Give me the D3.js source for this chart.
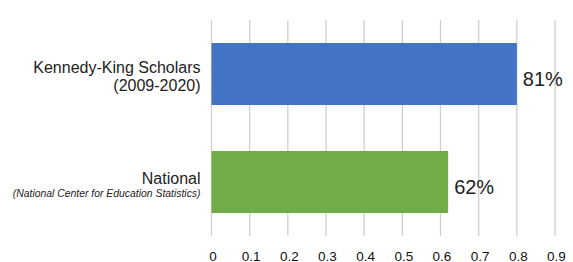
<!DOCTYPE html>
<html lang="en">
  <head>
    <meta charset="UTF-8">
    <script src="https://d3js.org/d3.v7.min.js"></script>
    <title>Graduation rates</title>
    <style>
    body { margin: 0; background: #fff; }
    </style>
  </head>
  <body>
    <div id="chart"></div>
    <script>

// Data
const groups    = ["Kennedy-King Scholars", "National"];
const subtitles = ["(2009-2020)", "(National Center for Education Statistics)"];
const values    = [0.80, 0.62];
const valueText = ["81%", "62%"];
const ticks     = [0, 0.1, 0.2, 0.3, 0.4, 0.5, 0.6, 0.7, 0.8, 0.9];
const colours   = ["#4472c4", "#70ad47"];

const width  = 573;
const height = 262;
const margin = { top: 20, right: 18, bottom: 26, left: 211.5 };

const svg = d3
  .select("#chart")
  .append("svg")
  .attr("width",  width)
  .attr("height", height)
  .attr("viewBox", [0, 0, width, height])
  .style("font-family", "'Liberation Sans', Arial, sans-serif");

const x = d3.scaleLinear()
  .domain([0, 0.9])
  .range([margin.left, width - margin.right]);

const y = d3.scaleBand()
  .domain(groups)
  .range([margin.top, height - margin.bottom])
  .paddingInner(0.426)
  .paddingOuter(0.213);

// vertical gridlines
svg.append("g")
  .selectAll("line")
  .data(ticks)
  .join("line")
    .attr("x1", d => x(d))
    .attr("x2", d => x(d))
    .attr("y1", margin.top)
    .attr("y2", height - margin.bottom)
    .attr("stroke", "#d0d0d0")
    .attr("stroke-width", 1.3);

// bars
svg.append("g")
  .selectAll("rect")
  .data(groups)
  .join("rect")
    .attr("x", x(0))
    .attr("y", d => y(d))
    .attr("width", (d, i) => x(values[i]) - x(0))
    .attr("height", y.bandwidth())
    .attr("fill", (d, i) => colours[i]);

// value labels
svg.append("g")
  .selectAll("text")
  .data(groups)
  .join("text")
    .attr("x", (d, i) => x(values[i]) + 6)
    .attr("y", d => y(d) + y.bandwidth() / 2 + 11.5)
    .attr("font-size", 20)
    .attr("fill", "#222")
    .text((d, i) => valueText[i]);

// category labels
const cat = svg.append("g")
  .selectAll("g")
  .data(groups)
  .join("g")
    .attr("transform", d => `translate(${margin.left - 11}, ${y(d) + y.bandwidth() / 2})`);

cat.append("text")
  .attr("text-anchor", "end")
  .attr("y", (d, i) => i === 0 ? -0.7 : 1.5)
  .attr("font-size", 16)
  .attr("fill", "#222")
  .text(d => d);

cat.append("text")
  .attr("text-anchor", "end")
  .attr("y", (d, i) => i === 0 ? 16.5 : 14.7)
  .attr("font-size", (d, i) => i === 0 ? 16 : 10.4)
  .attr("font-style", (d, i) => i === 0 ? "normal" : "italic")
  .attr("fill", "#222")
  .text((d, i) => subtitles[i]);

// x axis tick labels
svg.append("g")
  .selectAll("text")
  .data(ticks)
  .join("text")
    .attr("x", d => x(d) + 1.5)
    .attr("y", height - 1.5)
    .attr("text-anchor", "middle")
    .attr("font-size", 13.5)
    .attr("fill", "#111")
    .text(d => d3.format("")(d));

    </script>
  </body>
</html>
